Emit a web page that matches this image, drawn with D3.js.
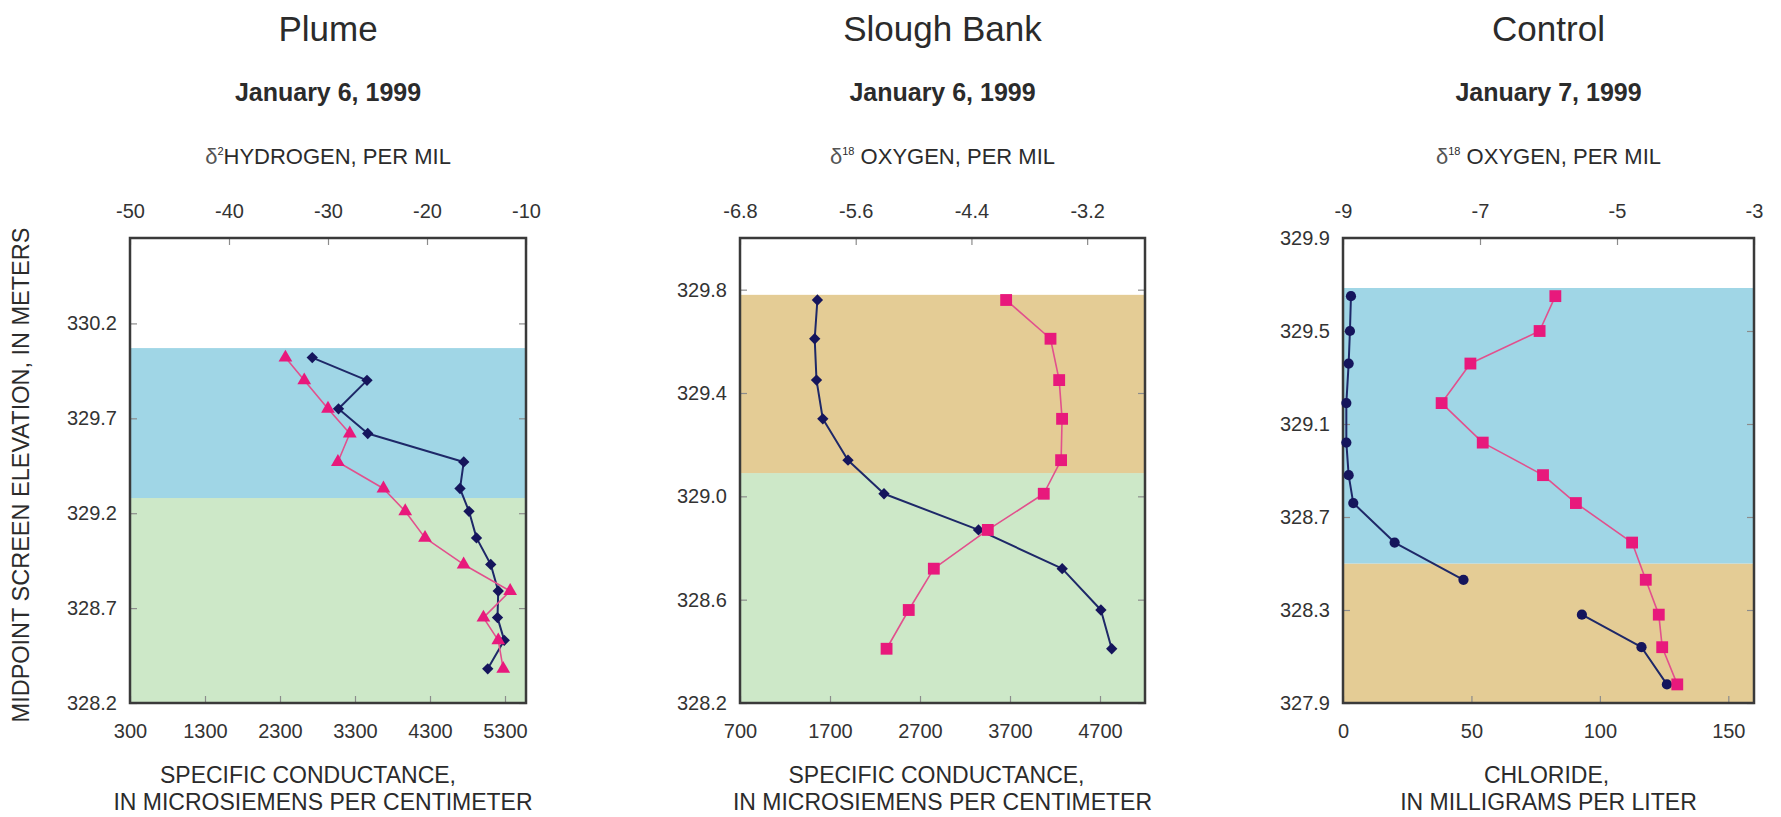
<!DOCTYPE html>
<html><head><meta charset="utf-8">
<script src="https://cdn.jsdelivr.net/npm/d3@7"></script>
<style>
body{margin:0;background:#fff}
svg{display:block}
text{font-family:"Liberation Sans",Arial,Helvetica,sans-serif}
</style>
</head><body>
<svg id="chart" width="1781" height="817"></svg>
<script>
// ---------------- DATA ----------------
// Plume, January 6, 1999
const plumeElevation   = [330.02, 329.90, 329.75, 329.62, 329.47, 329.33, 329.21, 329.07, 328.93, 328.79, 328.65, 328.53, 328.38];
const plumeConductance = [2730, 3460, 3080, 3470, 4750, 4700, 4820, 4920, 5110, 5210, 5200, 5290, 5070];
const plumeDeuterium   = [-34.3, -32.4, -30.0, -27.8, -29.0, -24.4, -22.2, -20.2, -16.3, -11.6, -14.3, -12.8, -12.3];
const plumeLayerBounds = [328.2, 329.28, 330.07];
const plumeTopTicks    = [-50, -40, -30, -20, -10];
const plumeBottomTicks = [300, 1300, 2300, 3300, 4300, 5300];
const plumeElevTicks   = [328.2, 328.7, 329.2, 329.7, 330.2];

// Slough Bank, January 6, 1999
const sloughElevation   = [329.76, 329.61, 329.45, 329.30, 329.14, 329.01, 328.87, 328.72, 328.56, 328.41];
const sloughConductance = [1560, 1530, 1550, 1620, 1900, 2300, 3350, 4280, 4710, 4830];
const sloughOxygen18    = [-4.04, -3.58, -3.49, -3.46, -3.47, -3.65, -4.23, -4.79, -5.05, -5.28];
const sloughLayerBounds = [328.2, 329.09, 329.78];
const sloughTopTicks    = [-6.8, -5.6, -4.4, -3.2];
const sloughBottomTicks = [700, 1700, 2700, 3700, 4700];
const sloughElevTicks   = [328.2, 328.6, 329.0, 329.4, 329.8];

// Control, January 7, 1999
const controlElevation   = [329.65, 329.50, 329.36, 329.19, 329.02, 328.88, 328.76, 328.59, 328.43, 328.28, 328.14, 327.98];
const controlChloride    = [3.1, 2.7, 2.2, 1.3, 1.3, 2.2, 4.0, 20.1, 46.9, 93.0, 116.2, 126.1];
const controlChlorideRun = [1, 1, 1, 1, 1, 1, 1, 1, 1, 2, 2, 2];
const controlOxygen18    = [-5.90, -6.13, -7.14, -7.56, -6.96, -6.08, -5.60, -4.78, -4.58, -4.39, -4.34, -4.12];
const controlLayerBounds = [327.9, 328.50, 329.685];
const controlTopTicks    = [-9, -7, -5, -3];
const controlBottomTicks = [0, 50, 100, 150];
const controlElevTicks   = [327.9, 328.3, 328.7, 329.1, 329.5, 329.9];

// ---------------- STYLE / LAYOUT ----------------
const C = {
  navy: "#15155c", navyLine: "#1e2868", pink: "#e8197c", pinkLine: "#e2508d",
  blue: "#a0d6e6", green: "#cde8c8", tan: "#e4cc95",
  frame: "#3a3a3a", tick: "#8c8c8c", text: "#2b2b2b"
};
const TOP = 238, BOTTOM = 703;
const plain = d => String(d);
const one = d => d.toFixed(1);

const panels = [
  {
    title: "Plume", date: "January 6, 1999", iso: ["2", "HYDROGEN, PER MIL"],
    x0: 130, x1: 526,
    yDomain: [328.2, 330.65], yTicks: plumeElevTicks,
    topDomain: [-50, -10], topTicks: plumeTopTicks, topFmt: plain,
    botDomain: [300, 5580], botTicks: plumeBottomTicks, botFmt: plain,
    xTitle: ["SPECIFIC CONDUCTANCE,", "IN MICROSIEMENS PER CENTIMETER"], xTitleShift: [-20, -5],
    bounds: plumeLayerBounds, bandColors: [C.green, C.blue],
    series: [
      {axis: "bottom", values: plumeConductance, elev: plumeElevation, sym: "diamond", color: C.navy, line: C.navyLine, lw: 2},
      {axis: "top", values: plumeDeuterium, elev: plumeElevation, sym: "triangle", color: C.pink, line: C.pinkLine, lw: 1.6}
    ]
  },
  {
    title: "Slough Bank", date: "January 6, 1999", iso: ["18", " OXYGEN, PER MIL"],
    x0: 740, x1: 1145,
    yDomain: [328.2, 330.0], yTicks: sloughElevTicks,
    topDomain: [-6.8, -2.6], topTicks: sloughTopTicks, topFmt: one,
    botDomain: [700, 5200], botTicks: sloughBottomTicks, botFmt: plain,
    xTitle: ["SPECIFIC CONDUCTANCE,", "IN MICROSIEMENS PER CENTIMETER"], xTitleShift: [-6, 0],
    bounds: sloughLayerBounds, bandColors: [C.green, C.tan],
    series: [
      {axis: "bottom", values: sloughConductance, elev: sloughElevation, sym: "diamond", color: C.navy, line: C.navyLine, lw: 2},
      {axis: "top", values: sloughOxygen18, elev: sloughElevation, sym: "square", color: C.pink, line: C.pinkLine, lw: 1.6}
    ]
  },
  {
    title: "Control", date: "January 7, 1999", iso: ["18", " OXYGEN, PER MIL"],
    x0: 1343, x1: 1754,
    yDomain: [327.9, 329.9], yTicks: controlElevTicks,
    topDomain: [-9, -3], topTicks: controlTopTicks, topFmt: plain,
    botDomain: [0, 160], botTicks: controlBottomTicks, botFmt: plain,
    xTitle: ["CHLORIDE,", "IN MILLIGRAMS PER LITER"], xTitleShift: [-2, 0],
    bounds: controlLayerBounds, bandColors: [C.tan, C.blue],
    series: [
      {axis: "bottom", values: controlChloride, elev: controlElevation, runs: controlChlorideRun, sym: "circle", color: C.navy, line: C.navyLine, lw: 2},
      {axis: "top", values: controlOxygen18, elev: controlElevation, sym: "square", color: C.pink, line: C.pinkLine, lw: 1.6}
    ]
  }
];

const svg = d3.select("#chart");
svg.append("rect").attr("width", 1781).attr("height", 817).attr("fill", "#fff");

const symbolGen = {
  diamond: d3.symbol(d3.symbolSquare, 64),
  triangle: d3.symbol(d3.symbolTriangle, 82),
  square: d3.symbol(d3.symbolSquare, 140),
  circle: d3.symbol(d3.symbolCircle, 82)
};

panels.forEach(p => {
  const g = svg.append("g");
  const cx = (p.x0 + p.x1) / 2;
  const y = d3.scaleLinear().domain(p.yDomain).range([BOTTOM, TOP]);
  const xTop = d3.scaleLinear().domain(p.topDomain).range([p.x0, p.x1]);
  const xBot = d3.scaleLinear().domain(p.botDomain).range([p.x0, p.x1]);

  // titles
  g.append("text").attr("x", cx).attr("y", 41).attr("text-anchor", "middle")
    .attr("font-size", 35).attr("fill", C.text).text(p.title);
  g.append("text").attr("x", cx).attr("y", 101).attr("text-anchor", "middle")
    .attr("font-size", 25).attr("font-weight", "bold").attr("fill", C.text).text(p.date);
  const sub = g.append("text").attr("x", cx).attr("y", 164).attr("text-anchor", "middle")
    .attr("font-size", 22).attr("fill", C.text);
  sub.append("tspan").attr("font-weight", "lighter").attr("fill", "#555").text("δ");
  sub.append("tspan").attr("font-size", 11).attr("dy", -9).text(p.iso[0]);
  sub.append("tspan").attr("dy", 9).text(p.iso[1]);

  // layer bands
  p.bandColors.forEach((col, i) => {
    g.append("rect").attr("x", p.x0).attr("width", p.x1 - p.x0)
      .attr("y", y(p.bounds[i + 1])).attr("height", y(p.bounds[i]) - y(p.bounds[i + 1]))
      .attr("fill", col);
  });

  // axes with inner ticks
  const styleAxis = (sel, showText) => {
    sel.select(".domain").remove();
    sel.selectAll(".tick line").attr("stroke", C.tick).attr("stroke-width", 1.2);
    sel.selectAll(".tick text").attr("font-size", 20).attr("fill", "#333")
      .attr("font-family", '"Liberation Sans",Arial,sans-serif');
    if (!showText) sel.selectAll(".tick text").remove();
  };
  g.append("g").attr("transform", `translate(0,${TOP})`)
    .call(d3.axisTop(xTop).tickValues(p.topTicks).tickFormat(p.topFmt).tickSize(-7).tickPadding(20))
    .call(s => styleAxis(s, true));
  g.append("g").attr("transform", `translate(0,${BOTTOM})`)
    .call(d3.axisBottom(xBot).tickValues(p.botTicks).tickFormat(p.botFmt).tickSize(-7).tickPadding(21))
    .call(s => styleAxis(s, true));
  g.append("g").attr("transform", `translate(${p.x0},0)`)
    .call(d3.axisLeft(y).tickValues(p.yTicks).tickFormat(one).tickSize(-7).tickPadding(13))
    .call(s => styleAxis(s, true));
  g.append("g").attr("transform", `translate(${p.x1},0)`)
    .call(d3.axisRight(y).tickValues(p.yTicks).tickSize(-7))
    .call(s => styleAxis(s, false));

  // frame
  g.append("rect").attr("x", p.x0).attr("y", TOP).attr("width", p.x1 - p.x0).attr("height", BOTTOM - TOP)
    .attr("fill", "none").attr("stroke", C.frame).attr("stroke-width", 2.5);

  // x axis title
  p.xTitle.forEach((t, i) => {
    g.append("text").attr("x", cx + p.xTitleShift[i]).attr("y", 783 + i * 27)
      .attr("text-anchor", "middle").attr("font-size", 23).attr("fill", C.text).text(t);
  });

  // series
  p.series.forEach(s => {
    const xs = s.axis === "top" ? xTop : xBot;
    const pts = s.values.map((v, i) => ({v, e: s.elev[i], run: s.runs ? s.runs[i] : 1}));
    const line = d3.line().x(d => xs(d.v)).y(d => y(d.e));
    d3.groups(pts, d => d.run).forEach(([, run]) => {
      g.append("path").attr("d", line(run)).attr("fill", "none")
        .attr("stroke", s.line).attr("stroke-width", s.lw).attr("stroke-linejoin", "round");
    });
    g.append("g").selectAll("path").data(pts).join("path")
      .attr("d", symbolGen[s.sym]())
      .attr("transform", d => `translate(${xs(d.v)},${y(d.e)})` + (s.sym === "diamond" ? " rotate(45)" : ""))
      .attr("fill", s.color);
  });
});

// shared y-axis title
svg.append("text").attr("transform", "translate(29,475) rotate(-90)")
  .attr("text-anchor", "middle").attr("font-size", 23.5).attr("fill", C.text)
  .text("MIDPOINT SCREEN ELEVATION, IN METERS");
</script>
</body></html>
